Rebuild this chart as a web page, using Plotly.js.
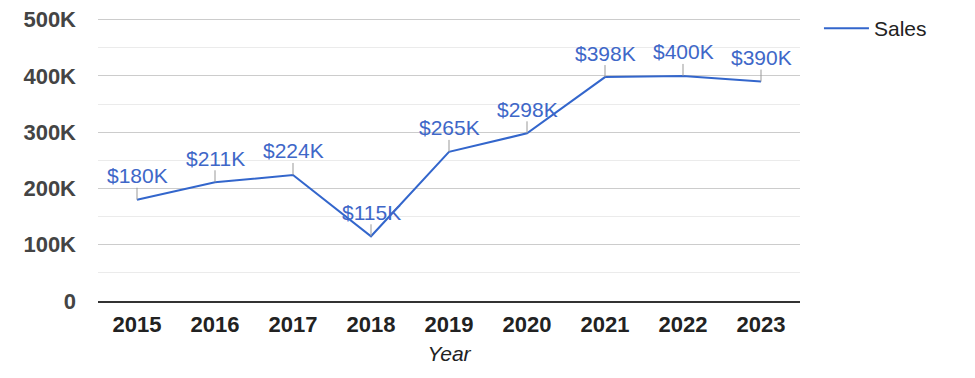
<!DOCTYPE html>
<html>
<head>
<meta charset="utf-8">
<script src="https://cdn.plot.ly/plotly-3.0.1.min.js"></script>
<style>html,body{margin:0;padding:0;background:#fff;}#chart{width:975px;height:378px;}</style>
</head>
<body>
<div id="chart"></div>
<script>
const years = ['2015','2016','2017','2018','2019','2020','2021','2022','2023'];
const sales = [180000, 211000, 224000, 115000, 265000, 298000, 398000, 400000, 390000];
const salesLabels = ['$180K','$211K','$224K','$115K','$265K','$298K','$398K','$400K','$390K'];
const yTickVals = [0, 100000, 200000, 300000, 400000, 500000];
const yTickText = ['0','100K','200K','300K','400K','500K'];

const trace = {
  x: years, y: sales, type: 'scatter', mode: 'lines', name: 'Sales',
  line: {color: '#3366cc', width: 2}
};

const annotations = years.map((yr, i) => ({
  x: i, y: sales[i], xref: 'x', yref: 'y',
  text: salesLabels[i], showarrow: true, arrowhead: 0, arrowwidth: 1,
  arrowcolor: '#999999', ax: 0, ay: -24, borderpad: 0,
  font: {family: 'Arial, Liberation Sans, sans-serif', size: 21, color: '#3e67c8'}
}));

const layout = {
  width: 975, height: 378,
  margin: {l: 98, r: 175, t: 18, b: 77, autoexpand: false},
  paper_bgcolor: '#fff', plot_bgcolor: '#fff',
  font: {family: 'Arial, Liberation Sans, sans-serif'},
  showlegend: true,
  legend: {x: 1.027, y: 1.035, xanchor: 'left', yanchor: 'top', itemwidth: 45,
    font: {size: 21, color: '#222'}},
  xaxis: {
    type: 'category', range: [-0.5, 8.5], showgrid: false, zeroline: false,
    showline: true, linecolor: '#333', linewidth: 1.5,
    ticks: '', ticklabelstandoff: 3, automargin: false,
    tickfont: {size: 22, color: '#222', weight: 'bold'},
    title: {text: '<i>Year</i>', font: {size: 21, color: '#222'}, standoff: 10}
  },
  yaxis: {
    range: [0, 503000], tickvals: yTickVals, ticktext: yTickText,
    showgrid: true, gridcolor: '#cccccc', gridwidth: 1, zeroline: false,
    showline: false, ticks: '', ticklabelstandoff: 21, automargin: false,
    tickfont: {size: 22, color: '#444', weight: 'bold'},
    minor: {dtick: 50000, tick0: 0, showgrid: true, gridcolor: '#ebebeb', gridwidth: 1, ticks: ''}
  },
  annotations: annotations
};

Plotly.newPlot('chart', [trace], layout, {displayModeBar: false, staticPlot: true});
</script>
</body>
</html>
